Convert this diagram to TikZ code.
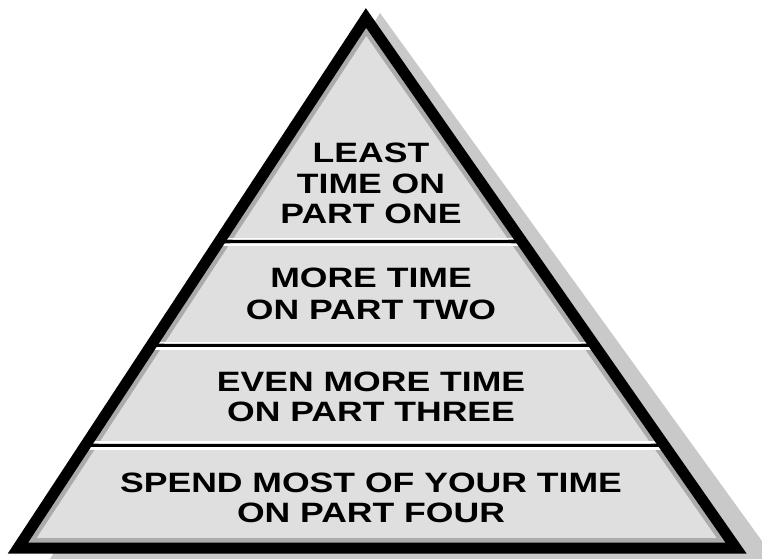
\documentclass[tikz,border=0pt]{standalone}
\usepackage{fontspec}
\newfontfamily\pyrfont{Liberation Sans}[FakeStretch=1.27]
\definecolor{bandfill}{HTML}{DFDFDF}
\definecolor{innerstrip}{HTML}{ABABAB}
\definecolor{shadowgray}{HTML}{C9C9C9}
\tikzset{
  lbl/.style={anchor=base, inner sep=0pt, font=\pyrfont\bfseries\fontsize{28pt}{30pt}\selectfont, text=black},
  divblack/.style={draw=black, line width=3.3pt},
  divwhite/.style={draw=white, line width=2.6pt},
}
\begin{document}
\begin{tikzpicture}[x=1pt,y=-1pt]
\useasboundingbox (0,0) rectangle (762,559);
\coordinate (A) at (366,18);
\coordinate (B) at (18,548);
\coordinate (C) at (736,548);
% outer shadow
\fill[shadowgray] (380,13) -- (775,559) -- (50,559) -- cycle;
% fill
\fill[bandfill] (A) -- (B) -- (C) -- cycle;
\begin{scope}
  \clip (A) -- (B) -- (C) -- cycle;
  \draw[innerstrip, line width=20pt, line join=miter] (A) -- (B) -- (C) -- cycle;
  \foreach \yy in {241.7,345.6,445.5} {
    \draw[draw=white, line width=1.6pt] (0,\yy-3.3) -- (762,\yy-3.3);
    \draw[divwhite] (0,\yy+3.1) -- (762,\yy+3.1);
    \draw[divblack] (0,\yy) -- (762,\yy);
  }
\end{scope}
\draw[black, line width=11pt, line join=miter] (A) -- (B) -- (C) -- cycle;
% texts
\node[lbl] (t1a) at (371,162.5) {LEAST};
\node[lbl] (t1b) at (371,193) {TIME ON};
\node[lbl] (t1c) at (371,223.5) {PART ONE};
\node[lbl] (t2a) at (371,287) {MORE TIME};
\node[lbl] (t2b) at (371,319.5) {ON PART TWO};
\node[lbl] (t3a) at (371,391) {EVEN MORE TIME};
\node[lbl] (t3b) at (371,421.5) {ON PART THREE};
\node[lbl] (t4a) at (371,492) {SPEND MOST OF YOUR TIME};
\node[lbl] (t4b) at (371,522.5) {ON PART FOUR};
\end{tikzpicture}
\end{document}
